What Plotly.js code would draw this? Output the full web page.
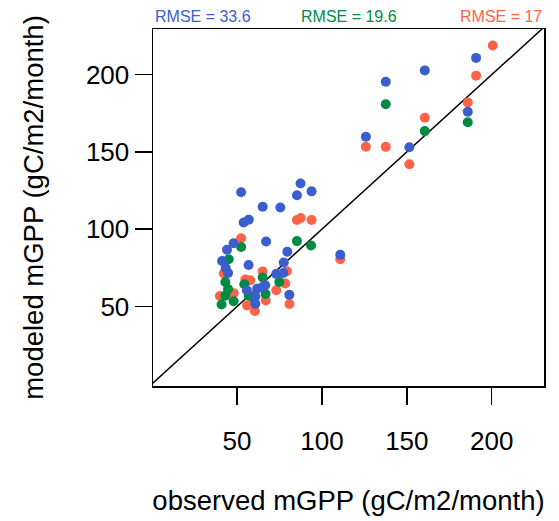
<!DOCTYPE html>
<html>
<head>
<meta charset="utf-8">
<script src="https://cdn.plot.ly/plotly-3.0.1.min.js"></script>
<style>html,body{margin:0;padding:0;background:#fff;}#chart{width:559px;height:521px;}</style>
</head>
<body>
<div id="chart"></div>
<script>
// Observed vs modeled mGPP (gC/m2/month), three models
const redObs = [200.6,190.8,185.9,160.6,125.9,137.6,151.5,85.3,87.5,93.9,110.8,52.4,65.1,54.9,57.8,79.4,78.4,73.1,48.0,39.9,55.9,60.5,66.9,80.9,42.2];
const redMod = [218.9,199.4,182.0,172.2,153.4,153.3,142.0,106.0,107.2,106.0,80.5,94.1,72.7,67.4,67.0,72.8,64.9,60.5,58.6,56.8,50.6,47.1,53.8,51.6,71.4];

const greenObs = [137.6,185.9,160.6,85.3,93.6,52.4,45.1,65.1,43.1,54.3,74.9,44.7,43.1,48.0,40.9,66.8,59.9,56.9];
const greenMod = [180.9,169.2,163.5,92.3,89.4,88.5,80.5,68.7,65.8,64.4,65.8,61.2,57.0,53.4,51.3,58.1,55.4,57.0];

const blueObs = [190.8,160.6,137.6,185.9,125.9,151.5,87.4,85.3,93.9,75.5,110.8,52.4,65.1,53.9,56.9,48.0,44.1,67.1,79.6,41.2,56.8,77.5,43.3,44.7,73.1,77.2,66.6,61.8,55.8,80.8,60.8,60.8,64.9];
const blueMod = [210.9,202.8,195.4,176.0,159.8,153.0,129.6,122.0,124.5,114.0,83.4,123.9,114.5,104.3,106.2,90.9,86.7,92.0,85.4,79.4,76.8,78.5,74.9,71.7,71.1,71.7,63.7,61.5,60.5,57.5,56.4,51.7,62.5];

const rmseLabels = ["RMSE = 33.6", "RMSE = 19.6", "RMSE = 17"];
const oneToOne = [0, 240];
const xTicks = [50, 100, 150, 200];
const yTicks = [50, 100, 150, 200];

const BLUE = "#3A5FCD", GREEN = "#008B45", RED = "#FF6347";
const FONT = "Liberation Sans, Arial, Helvetica, sans-serif";

function pts(x, y, c) {
  return {x: x, y: y, type: "scatter", mode: "markers",
    marker: {color: c, size: 10, line: {width: 0}}, hoverinfo: "skip", showlegend: false, cliponaxis: true};
}

const data = [
  {x: oneToOne, y: oneToOne, type: "scatter", mode: "lines", line: {color: "#000", width: 1.5}, showlegend: false, hoverinfo: "skip"},
  pts(redObs, redMod, RED),
  pts(greenObs, greenMod, GREEN),
  pts(blueObs, blueMod, BLUE)
];

const axisCommon = {
  showgrid: false, zeroline: false, showline: true, mirror: true,
  linecolor: "#000", linewidth: 1.5,
  ticks: "outside", ticklen: 17, tickwidth: 1.5, tickcolor: "#000",
  tickfont: {family: FONT, size: 26, color: "#000"},
  fixedrange: true
};

const layout = {
  width: 559, height: 521,
  margin: {l: 153, r: 15, t: 29, b: 135, pad: 0},
  paper_bgcolor: "#fff", plot_bgcolor: "#fff",
  font: {family: FONT, color: "#000"},
  xaxis: Object.assign({}, axisCommon, {
    range: [0.5, 230.8], tickvals: xTicks, ticktext: xTicks.map(String),
    ticklabelstandoff: 14,
    title: {text: "observed mGPP (gC/m2/month)", font: {family: FONT, size: 27.5, color: "#000"}, standoff: 36}
  }),
  yaxis: Object.assign({}, axisCommon, {
    range: [-1.5, 229.6], tickvals: yTicks, ticktext: yTicks.map(String),
    title: {text: "modeled mGPP (gC/m2/month)", font: {family: FONT, size: 27.5, color: "#000"}, standoff: 34}
  }),
  annotations: [
    {text: rmseLabels[0], xref: "paper", yref: "paper", x: 0, y: 1.036, xanchor: "left", yanchor: "middle", showarrow: false, font: {family: FONT, size: 16, color: BLUE}},
    {text: rmseLabels[1], xref: "paper", yref: "paper", x: 0.5, y: 1.036, xanchor: "center", yanchor: "middle", showarrow: false, font: {family: FONT, size: 16, color: GREEN}},
    {text: rmseLabels[2], xref: "paper", yref: "paper", x: 1, y: 1.036, xanchor: "right", yanchor: "middle", showarrow: false, font: {family: FONT, size: 16, color: RED}}
  ],
  showlegend: false
};

Plotly.newPlot("chart", data, layout, {displayModeBar: false, staticPlot: true});
</script>
</body>
</html>
